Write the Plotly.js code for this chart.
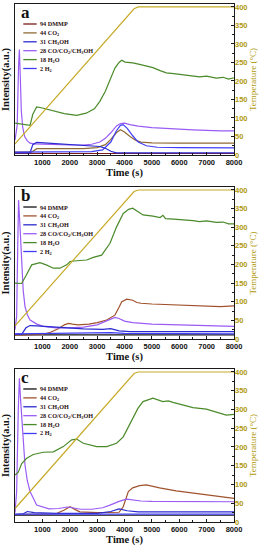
<!DOCTYPE html>
<html>
<head>
<meta charset="utf-8">
<script src="https://cdn.plot.ly/plotly-3.0.1.min.js"></script>
<style>html,body{margin:0;padding:0;background:#fff;}#chart{width:266px;height:550px;}</style>
</head>
<body>
<div id="chart"></div>
<script>
// ---------- Data ----------
const panelLabels = ["a", "b", "c"];
const seriesNames = ["94 DMMP", "44 CO<sub>2</sub>", "31 CH<sub>3</sub>OH", "28 CO/CO<sub>2</sub>/CH<sub>3</sub>OH", "18 H<sub>2</sub>O", "2 H<sub>2</sub>"];
const xTicks = [1000, 2000, 3000, 4000, 5000, 6000, 7000, 8000];
const tempTicks = [0, 50, 100, 150, 200, 250, 300, 350, 400];

// Temperature (°C)
const tempT_a = [0, 4200, 4350, 4500, 8000];
const tempV_a = [30, 383, 395, 400, 400];
const tempT_b = [0, 4200, 4350, 4500, 8000];
const tempV_b = [35, 384, 396, 400, 400];
const tempT_c = [0, 4200, 4350, 4500, 8000];
const tempV_c = [36, 384, 396, 400, 400];

// Panel a
const dmmpT_a = [0, 8000];
const dmmpV_a = [4, 4];
const co2T_a = [0, 600, 800, 1500, 2500, 3000, 3300, 3500, 3700, 3850, 4000, 4200, 4400, 4600, 5000, 6000, 7000, 8000];
const co2V_a = [8, 8, 17, 17, 17, 20, 28, 42, 60, 68, 62, 50, 40, 35, 33, 32, 32, 32];
const ch3ohT_a = [0, 550, 650, 790, 1200, 2000, 2600, 3100, 3300, 3500, 3700, 8000];
const ch3ohV_a = [6, 6, 28, 34, 32, 29, 26, 23, 18, 10, 6, 6];
const coT_a = [0, 80, 130, 160, 190, 230, 280, 350, 450, 550, 700, 1000, 1500, 2000, 2500, 2800, 3100, 3300, 3500, 3700, 3850, 4000, 4200, 4500, 5000, 5500, 6000, 6500, 7000, 7500, 8000];
const coV_a = [40, 80, 240, 285, 220, 120, 75, 50, 38, 32, 30, 29, 28, 27, 27, 29, 35, 45, 60, 78, 85, 86, 82, 78, 74, 71, 70, 68, 66, 65, 65];
const h2oT_a = [0, 300, 550, 650, 790, 1000, 1400, 1800, 2250, 2600, 2900, 3100, 3300, 3500, 3650, 3800, 3900, 4020, 4300, 4550, 5040, 5300, 5530, 5800, 6140, 6500, 6740, 7000, 7350, 7600, 7800, 7960, 8000];
const h2oV_a = [86, 82, 80, 110, 130, 127, 120, 112, 107, 113, 125, 145, 172, 210, 235, 250, 256, 251, 249, 245, 236, 228, 222, 220, 217, 214, 211, 213, 208, 210, 205, 208, 208];
const h2T_a = [0, 2800, 3200, 3500, 3700, 3850, 3950, 4100, 4300, 4500, 4800, 5200, 6000, 8000];
const h2V_a = [8, 9, 14, 35, 65, 80, 82, 72, 52, 35, 25, 21, 20, 19];

// Panel b
const dmmpT_b = [0, 8000];
const dmmpV_b = [11, 11];
const co2T_b = [0, 1000, 1300, 1600, 1800, 1950, 2100, 2300, 2700, 3000, 3350, 3650, 3800, 3900, 4080, 4300, 4450, 4600, 5000, 6000, 7000, 7500, 8000];
const co2V_b = [10, 12, 18, 28, 38, 42, 40, 38, 40, 44, 51, 64, 85, 100, 107, 104, 98, 96, 94, 92, 90, 87, 89];
const ch3ohT_b = [0, 250, 400, 550, 800, 1500, 2500, 3200, 3500, 3800, 4200, 8000];
const ch3ohV_b = [13, 13, 30, 36, 35, 31, 27, 26, 28, 22, 20, 20];
const coT_b = [0, 60, 100, 130, 170, 240, 300, 365, 450, 550, 800, 1030, 1500, 2000, 2500, 3000, 3400, 3650, 3800, 4000, 4300, 5000, 6000, 7000, 8000];
const coV_b = [25, 60, 250, 373, 320, 203, 130, 87, 65, 51, 40, 34, 30, 30, 32, 38, 50, 58, 55, 48, 44, 40, 38, 36, 34];
const h2oT_b = [0, 240, 400, 610, 910, 1140, 1400, 1640, 1890, 2010, 2250, 2620, 2860, 3165, 3470, 3710, 3955, 4150, 4300, 4500, 4675, 5040, 5300, 5405, 5500, 5800, 6140, 6500, 6740, 7000, 7350, 7600, 7800, 8000];
const h2oV_b = [150, 149, 170, 199, 205, 199, 190, 190, 199, 208, 210, 212, 219, 225, 257, 301, 337, 348, 351, 342, 333, 330, 326, 332, 323, 322, 321, 318, 315, 317, 313, 314, 309, 309];
const h2T_b = [0, 3000, 3500, 4000, 8000];
const h2V_b = [14, 15, 17, 15, 14];

// Panel c
const dmmpT_c = [0, 8000];
const dmmpV_c = [18, 18];
const co2T_c = [0, 1500, 1800, 2010, 2200, 2370, 3000, 3800, 3950, 4140, 4300, 4550, 4800, 5280, 5890, 6500, 7110, 7500, 7960, 8000];
const co2V_c = [20, 22, 32, 41, 33, 27, 25, 26, 40, 81, 91, 97, 99, 91, 83, 77, 70, 67, 63, 63];
const ch3ohT_c = [0, 300, 450, 700, 1500, 3000, 3500, 3800, 4100, 4500, 8000];
const ch3ohV_c = [20, 22, 28, 25, 23, 23, 28, 35, 30, 27, 27];
const coT_c = [0, 60, 120, 160, 200, 245, 300, 365, 450, 550, 790, 1240, 1600, 1900, 2100, 2400, 2800, 3200, 3470, 3800, 4080, 4300, 4600, 5000, 6000, 7000, 8000];
const coV_c = [25, 80, 300, 383, 330, 285, 210, 152, 110, 81, 45, 35, 36, 40, 38, 34, 34, 38, 45, 55, 61, 59, 56, 55, 54, 54, 54];
const h2oT_c = [0, 120, 245, 425, 670, 1030, 1400, 1765, 2070, 2250, 2495, 2985, 3350, 3710, 3955, 4140, 4300, 4490, 4675, 5040, 5400, 5600, 5770, 6140, 6500, 6990, 7350, 7720, 8000];
const h2oV_c = [125, 133, 156, 170, 180, 186, 187, 201, 219, 221, 210, 201, 201, 210, 227, 254, 277, 303, 321, 330, 321, 323, 319, 312, 305, 301, 294, 285, 287];
const h2T_c = [0, 8000];
const h2V_c = [21, 21];

// ---------- Styling ----------
const tempColor = "#c6aa28";
const tempLabelColor = "#b09a10";
const panelColors = [
  ["#7a1a1a", "#8e6a34", "#2b2bd0", "#9a5cf5", "#4a8a2a", "#3f3cf5"],
  ["#111111", "#a0522d", "#2b2bd0", "#9a5cf5", "#4a8a2a", "#3f3cf5"],
  ["#111111", "#a0522d", "#2b2bd0", "#9a5cf5", "#4a8a2a", "#3f3cf5"]
];
const panelSeries = [
  [[dmmpT_a, dmmpV_a], [co2T_a, co2V_a], [ch3ohT_a, ch3ohV_a], [coT_a, coV_a], [h2oT_a, h2oV_a], [h2T_a, h2V_a]],
  [[dmmpT_b, dmmpV_b], [co2T_b, co2V_b], [ch3ohT_b, ch3ohV_b], [coT_b, coV_b], [h2oT_b, h2oV_b], [h2T_b, h2V_b]],
  [[dmmpT_c, dmmpV_c], [co2T_c, co2V_c], [ch3ohT_c, ch3ohV_c], [coT_c, coV_c], [h2oT_c, h2oV_c], [h2T_c, h2V_c]]
];
const panelTemp = [[tempT_a, tempV_a], [tempT_b, tempV_b], [tempT_c, tempV_c]];
const domains = [[0.7085, 1.0], [0.3533, 0.6467], [0.0, 0.2954]];
const drawOrder = [0, 1, 3, 4, 2, 5];

const W = 266, H = 550, ML = 15, MR = 32, MT = 4, MB = 28;
const plotW = W - ML - MR;

const traces = [];
const layout = {
  width: W, height: H,
  margin: {l: ML, r: MR, t: MT, b: MB, pad: 0},
  paper_bgcolor: "#ffffff", plot_bgcolor: "#ffffff",
  showlegend: false,
  shapes: [], annotations: []
};

const serif = "Liberation Serif, Times New Roman, serif";
const sans = "Liberation Sans, Arial, sans-serif";

for (let p = 0; p < 3; p++) {
  const xa = p === 0 ? "x" : "x" + (p + 1);
  const yi = p === 0 ? "y" : "y" + (2 * p + 1);
  const yt = "y" + (2 * p + 2);
  const xKey = p === 0 ? "xaxis" : "xaxis" + (p + 1);
  const yiKey = p === 0 ? "yaxis" : "yaxis" + (2 * p + 1);
  const ytKey = "yaxis" + (2 * p + 2);

  for (const s of drawOrder) {
    traces.push({
      type: "scatter", mode: "lines",
      x: panelSeries[p][s][0], y: panelSeries[p][s][1],
      xaxis: xa, yaxis: yi,
      line: {color: panelColors[p][s], width: 1.2},
      name: seriesNames[s], hoverinfo: "skip"
    });
  }
  traces.push({
    type: "scatter", mode: "lines",
    x: panelTemp[p][0], y: panelTemp[p][1],
    xaxis: xa, yaxis: yt,
    line: {color: tempColor, width: 1.2},
    name: "Temperature", hoverinfo: "skip"
  });

  layout[xKey] = {
    domain: [0, 1], anchor: yi, range: [0, 8000],
    showline: true, linecolor: "#1a1a1a", linewidth: 1.3, mirror: true,
    showgrid: false, zeroline: false,
    tickmode: "array", tickvals: xTicks,
    ticks: "inside", ticklen: 3, tickwidth: 1, tickcolor: "#1a1a1a",
    minor: {dtick: 500, tick0: 0, ticks: "inside", ticklen: 2, tickcolor: "#1a1a1a", showgrid: false},
    tickfont: {family: sans, size: 7.5, color: "#111", weight: "bold"},
    title: {text: "Time (s)", font: {family: serif, size: 10.5, color: "#111", weight: "bold"}, standoff: 1}
  };
  layout[yiKey] = {
    domain: domains[p], anchor: xa, range: [0, 408],
    showline: true, linecolor: "#1a1a1a", linewidth: 1.3, mirror: true,
    showgrid: false, zeroline: false, showticklabels: false, ticks: "",
    title: {text: "Intensity(a.u.)", font: {family: serif, size: 10.5, color: "#111", weight: "bold"}, standoff: 2}
  };
  layout[ytKey] = {
    overlaying: yi, side: "right", anchor: xa, range: [0, 408],
    showline: false, showgrid: false, zeroline: false,
    tickmode: "array", tickvals: tempTicks,
    ticks: "inside", ticklen: 3, tickwidth: 1, tickcolor: "#1a1a1a",
    minor: {dtick: 25, tick0: 0, ticks: "inside", ticklen: 2, tickcolor: "#1a1a1a", showgrid: false},
    tickfont: {family: sans, size: 7.5, color: tempLabelColor, weight: "bold"},
    title: {text: "Temperature (°C)", font: {family: serif, size: 9, color: tempLabelColor}, standoff: 2}
  };

  // legend keys drawn per panel
  const panelH = (domains[p][1] - domains[p][0]) * (H - MT - MB);
  const xr = xa + " domain", yr = yi + " domain";
  for (let s = 0; s < seriesNames.length; s++) {
    const yy = 1 - (20 + s * 8.9) / panelH;
    layout.shapes.push({
      type: "line", xref: xr, yref: yr,
      x0: (23.3 - ML) / plotW, x1: (36.7 - ML) / plotW, y0: yy, y1: yy,
      line: {color: panelColors[p][s], width: 1.3}
    });
    layout.annotations.push({
      xref: xr, yref: yr, x: (37.5 - ML) / plotW, y: yy,
      xanchor: "left", yanchor: "middle", showarrow: false,
      text: seriesNames[s],
      font: {family: serif, size: 6.2, color: "#2a1010", weight: "bold"}
    });
  }
  layout.annotations.push({
    xref: xr, yref: yr, x: (25 - ML) / plotW, y: 1 - 8.5 / panelH,
    xanchor: "center", yanchor: "middle", showarrow: false,
    text: panelLabels[p],
    font: {family: serif, size: 17, color: "#111", weight: "bold"}
  });
}

Plotly.newPlot("chart", traces, layout, {staticPlot: true, displayModeBar: false});
</script>
</body>
</html>
